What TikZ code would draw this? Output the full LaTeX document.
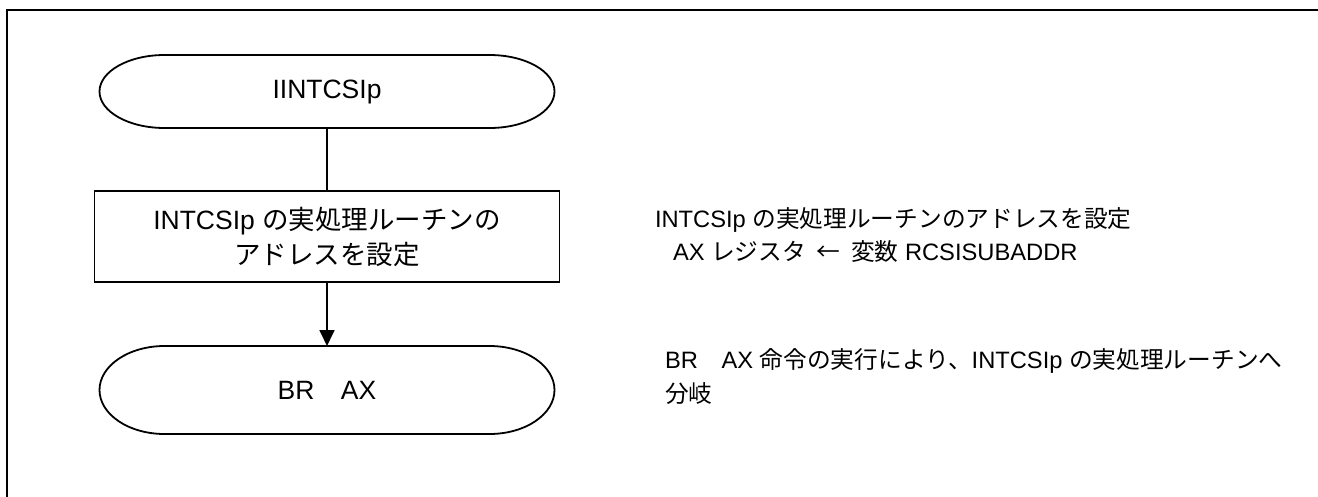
\documentclass[tikz,border=0pt]{standalone}
\usepackage{fontspec}
\setmainfont{Liberation Sans}
\newfontfamily\jpfont{Noto Sans CJK JP}
\usetikzlibrary{arrows.meta}
\newcommand\J[1]{{\jpfont #1}}
\begin{document}
\begin{tikzpicture}[x=1pt,y=-1pt,
  every node/.style={inner sep=0pt, outer sep=0pt},
  termnode/.style={minimum width=455pt, font=\fontsize{26.5}{35}\selectfont},
  procbox/.style={draw, line width=1.8pt, minimum width=465pt, minimum height=91pt, align=center, font=\fontsize{26.5}{35}\selectfont},
  note/.style={anchor=base west, font=\fontsize{23.7}{33}\selectfont},
  conn/.style={line width=1.8pt},
  shapeline/.style={line width=1.8pt},
  frameline/.style={line width=2.4pt}
]
\useasboundingbox (0,0) rectangle (1318,496);
% outer frame (top and left edges)
\draw[frameline] (1320,10) -- (7,10) -- (7,500);

% top terminal
\node[termnode, minimum height=73pt] (t1) at (327,91.5) {IINTCSIp};
\draw[shapeline] ([xshift=65pt]t1.north west) -- ([xshift=-65pt]t1.north east)
  arc[start angle=90, end angle=-90, x radius=65pt, y radius=36.5pt]
  -- ([xshift=65pt]t1.south west)
  arc[start angle=270, end angle=90, x radius=65pt, y radius=36.5pt] -- cycle;

% process box
\node[procbox] (p1) at (327,236.5) {INTCSIp \J{の実処理ルーチンの}\\\J{アドレスを設定}};

% bottom terminal
\node[termnode, minimum height=88pt] (t2) at (327,390) {BR\J{　}AX};
\draw[shapeline] ([xshift=65pt]t2.north west) -- ([xshift=-65pt]t2.north east)
  arc[start angle=90, end angle=-90, x radius=65pt, y radius=44pt]
  -- ([xshift=65pt]t2.south west)
  arc[start angle=270, end angle=90, x radius=65pt, y radius=44pt] -- cycle;

% connectors
\draw[conn] (t1.south) -- (p1.north);
\draw[conn, -{Triangle[width=15pt,length=16pt]}] (p1.south) -- (t2.north);

% notes
\node[note] (n1) at (655,227) {INTCSIp \J{の実処理ルーチンのアドレスを設定}};
\node[note] (n2) at (673,260) {AX \J{レジスタ}\hspace{0.45em}\J{←}\hspace{0.45em}\J{変数} RCSISUBADDR};
\node[note] (n3) at (665,368) {BR\J{　}AX \J{命令の実行により、}INTCSIp \J{の実処理ルーチンへ}};
\node[note] (n4) at (665,402) {\J{分岐}};
\end{tikzpicture}
\end{document}
